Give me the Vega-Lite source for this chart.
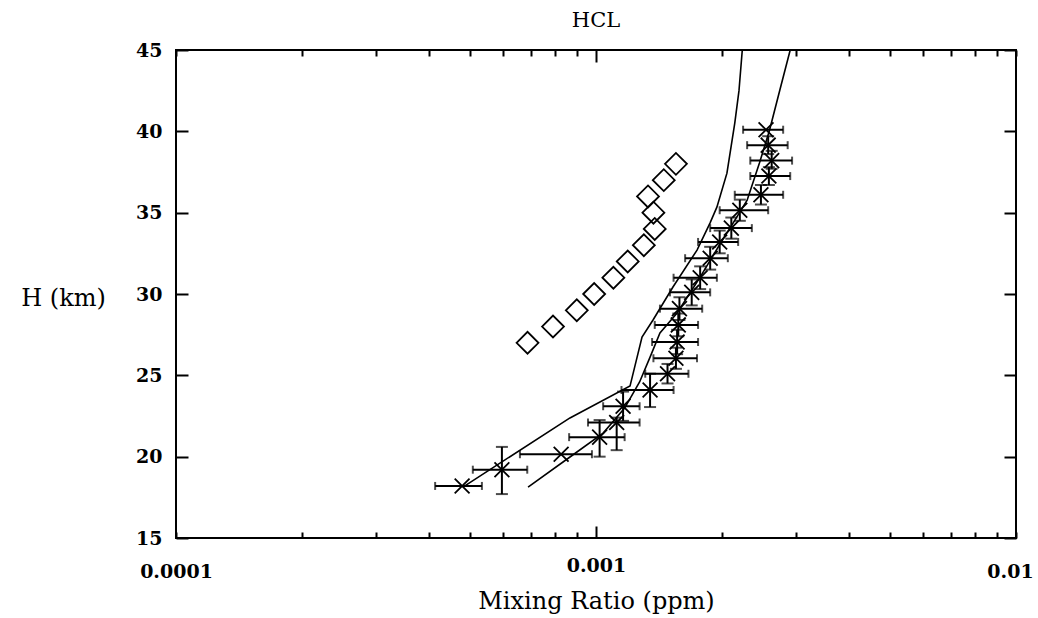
{
  "$schema": "https://vega.github.io/schema/vega-lite/v6.json",
  "width": 840,
  "height": 488,
  "autosize": {"type": "none"},
  "padding": {"left": 176, "top": 50, "right": 22, "bottom": 80},
  "background": "white",
  "title": {"text": "HCL", "font": "DejaVu Serif", "fontSize": 21, "fontWeight": "normal", "color": "black", "offset": 10},
  "config": {
    "view": {"stroke": "black", "strokeWidth": 2},
    "axis": {"grid": false, "domain": false, "tickColor": "black", "tickWidth": 2, "labelColor": "black", "titleColor": "black", "labelFont": "DejaVu Serif", "titleFont": "DejaVu Serif", "labelFontSize": 19, "titleFontSize": 24, "labelFontWeight": "bold", "titleFontWeight": "normal"}
  },
  "datasets": {
    "model": [
      {"s": "A", "x": 0.000482, "h": 18.13},
      {"s": "A", "x": 0.000867, "h": 22.38},
      {"s": "A", "x": 0.001205, "h": 24.34},
      {"s": "A", "x": 0.001287, "h": 27.35},
      {"s": "A", "x": 0.001367, "h": 28.4},
      {"s": "A", "x": 0.001525, "h": 30.43},
      {"s": "A", "x": 0.00174, "h": 32.7},
      {"s": "A", "x": 0.001868, "h": 34.36},
      {"s": "A", "x": 0.00194, "h": 35.34},
      {"s": "A", "x": 0.00205, "h": 37.43},
      {"s": "A", "x": 0.00214, "h": 40.5},
      {"s": "A", "x": 0.00219, "h": 42.5},
      {"s": "A", "x": 0.00223, "h": 45},
      {"s": "B", "x": 0.000689, "h": 18.13},
      {"s": "B", "x": 0.000867, "h": 19.98},
      {"s": "B", "x": 0.00104, "h": 21.45},
      {"s": "B", "x": 0.00117, "h": 22.99},
      {"s": "B", "x": 0.00127, "h": 24.59},
      {"s": "B", "x": 0.001345, "h": 26.12},
      {"s": "B", "x": 0.00142, "h": 27.6},
      {"s": "B", "x": 0.00156, "h": 28.83},
      {"s": "B", "x": 0.00177, "h": 31.04},
      {"s": "B", "x": 0.002, "h": 33.32},
      {"s": "B", "x": 0.00212, "h": 34.36},
      {"s": "B", "x": 0.00229, "h": 35.77},
      {"s": "B", "x": 0.00245, "h": 38.05},
      {"s": "B", "x": 0.00259, "h": 40.08},
      {"s": "B", "x": 0.00274, "h": 42.54},
      {"s": "B", "x": 0.0029, "h": 45}
    ],
    "meas": [
      {"x": 0.00048, "h": 18.2, "xmin": 0.000414, "xmax": 0.000535, "ymin": null, "ymax": null},
      {"x": 0.000597, "h": 19.2, "xmin": 0.000509, "xmax": 0.000686, "ymin": 17.7, "ymax": 20.6},
      {"x": 0.000826, "h": 20.15, "xmin": 0.000659, "xmax": 0.000978, "ymin": null, "ymax": null},
      {"x": 0.00102, "h": 21.2, "xmin": 0.000863, "xmax": 0.00117, "ymin": 20.0, "ymax": 22.25},
      {"x": 0.00112, "h": 22.1, "xmin": 0.000957, "xmax": 0.00127, "ymin": 20.4, "ymax": 22.4},
      {"x": 0.00116, "h": 23.1, "xmin": 0.00104, "xmax": 0.00127, "ymin": 22.2, "ymax": 24.0},
      {"x": 0.001345, "h": 24.1, "xmin": 0.00115, "xmax": 0.00153, "ymin": 23.05, "ymax": 25.1},
      {"x": 0.00148, "h": 25.1, "xmin": 0.00131, "xmax": 0.00166, "ymin": 24.5, "ymax": 25.7},
      {"x": 0.00155, "h": 26.05, "xmin": 0.00137, "xmax": 0.00174, "ymin": 25.4, "ymax": 26.7},
      {"x": 0.00156, "h": 27.05, "xmin": 0.00136, "xmax": 0.00175, "ymin": 26.3, "ymax": 27.8},
      {"x": 0.00157, "h": 28.1, "xmin": 0.00138, "xmax": 0.00175, "ymin": 27.4, "ymax": 28.8},
      {"x": 0.00158, "h": 29.1, "xmin": 0.00142, "xmax": 0.00179, "ymin": 28.4, "ymax": 29.8},
      {"x": 0.00169, "h": 30.1, "xmin": 0.0015, "xmax": 0.00187, "ymin": 29.3, "ymax": 30.9},
      {"x": 0.00177, "h": 31.0, "xmin": 0.00153, "xmax": 0.00194, "ymin": 30.3, "ymax": 31.7},
      {"x": 0.00187, "h": 32.2, "xmin": 0.00163, "xmax": 0.00206, "ymin": 31.5, "ymax": 32.9},
      {"x": 0.00197, "h": 33.2, "xmin": 0.00175, "xmax": 0.00218, "ymin": 32.5, "ymax": 33.9},
      {"x": 0.0021, "h": 34.05, "xmin": 0.00187, "xmax": 0.00235, "ymin": 33.4, "ymax": 34.7},
      {"x": 0.0022, "h": 35.15, "xmin": 0.00197, "xmax": 0.00257, "ymin": 34.5, "ymax": 35.8},
      {"x": 0.00247, "h": 36.1, "xmin": 0.00214, "xmax": 0.00279, "ymin": 35.5, "ymax": 36.7},
      {"x": 0.00258, "h": 37.25, "xmin": 0.00233, "xmax": 0.0029, "ymin": 36.7, "ymax": 37.8},
      {"x": 0.00262, "h": 38.2, "xmin": 0.00233, "xmax": 0.00293, "ymin": 37.7, "ymax": 38.8},
      {"x": 0.00257, "h": 39.15, "xmin": 0.00229, "xmax": 0.00286, "ymin": 38.6, "ymax": 39.7},
      {"x": 0.00254, "h": 40.1, "xmin": 0.00224, "xmax": 0.00279, "ymin": null, "ymax": null}
    ],
    "diam": [
      {"x": 0.000687, "h": 27},
      {"x": 0.00079, "h": 28},
      {"x": 0.0009, "h": 29},
      {"x": 0.00099, "h": 30},
      {"x": 0.0011, "h": 31},
      {"x": 0.00119, "h": 32},
      {"x": 0.0013, "h": 33},
      {"x": 0.00138, "h": 34},
      {"x": 0.00137, "h": 35},
      {"x": 0.00133, "h": 36},
      {"x": 0.00145, "h": 37},
      {"x": 0.00155, "h": 38}
    ]
  },
  "layer": [
    {
      "layer": [
        {
          "data": {"name": "model"},
          "mark": {"type": "line", "color": "black", "strokeWidth": 1.6, "clip": true},
          "encoding": {
            "x": {"field": "x", "type": "quantitative", "title": "Mixing Ratio (ppm)",
              "scale": {"type": "log", "domain": [0.0001, 0.01], "nice": false},
              "axis": {"orient": "bottom",
                "values": [0.0001, 0.0002, 0.0003, 0.0004, 0.0005, 0.0006, 0.0007, 0.0008, 0.0009, 0.001, 0.002, 0.003, 0.004, 0.005, 0.006, 0.007, 0.008, 0.009, 0.01],
                "labelExpr": "datum.value == 0.0001 ? '0.0001' : datum.value == 0.001 ? '0.001' : datum.value == 0.01 ? '0.01' : ''",
                "tickSize": {"condition": {"test": "datum.value == 0.001", "value": -12}, "value": -6},
                "labelOffset": {"condition": {"test": "datum.value == 0.01", "value": -6}, "value": 0},
                "labelPadding": 30, "labelFlush": false, "labelOverlap": false,
                "titleY": 63, "titleBaseline": "middle"}},
            "y": {"field": "h", "type": "quantitative", "title": "H (km)",
              "scale": {"domain": [15, 45], "nice": false, "zero": false},
              "axis": {"orient": "left", "values": [15, 20, 25, 30, 35, 40, 45], "tickSize": -12, "labelPadding": 26, "labelFlush": false,
                "titleAngle": 0, "titleX": -113, "titleY": 248, "titleAlign": "center", "titleBaseline": "middle"}},
            "detail": {"field": "s"},
            "order": {"field": "h", "type": "quantitative"}
          }
        },
        {
          "data": {"name": "meas"},
          "mark": {"type": "rule", "color": "black", "strokeWidth": 2},
          "encoding": {
            "x": {"field": "xmin", "type": "quantitative", "title": "Mixing Ratio (ppm)", "scale": {"type": "log", "domain": [0.0001, 0.01], "nice": false}},
            "x2": {"field": "xmax"},
            "y": {"field": "h", "type": "quantitative", "title": "H (km)", "scale": {"domain": [15, 45], "nice": false, "zero": false}}
          }
        },
        {
          "data": {"name": "meas"},
          "transform": [{"fold": ["xmin", "xmax"], "as": ["end", "xe"]}],
          "mark": {"type": "tick", "orient": "vertical", "color": "black", "size": 8, "thickness": 2},
          "encoding": {
            "x": {"field": "xe", "type": "quantitative", "title": "Mixing Ratio (ppm)", "scale": {"type": "log", "domain": [0.0001, 0.01], "nice": false}},
            "y": {"field": "h", "type": "quantitative", "title": "H (km)", "scale": {"domain": [15, 45], "nice": false, "zero": false}}
          }
        },
        {
          "data": {"name": "meas"},
          "transform": [{"filter": "datum.ymin != null"}],
          "mark": {"type": "rule", "color": "black", "strokeWidth": 2},
          "encoding": {
            "x": {"field": "x", "type": "quantitative", "title": "Mixing Ratio (ppm)", "scale": {"type": "log", "domain": [0.0001, 0.01], "nice": false}},
            "y": {"field": "ymin", "type": "quantitative", "title": "H (km)", "scale": {"domain": [15, 45], "nice": false, "zero": false}},
            "y2": {"field": "ymax"}
          }
        },
        {
          "data": {"name": "meas"},
          "transform": [{"filter": "datum.ymin != null"}, {"fold": ["ymin", "ymax"], "as": ["end", "ye"]}],
          "mark": {"type": "tick", "orient": "horizontal", "color": "black", "size": 12, "thickness": 2},
          "encoding": {
            "x": {"field": "x", "type": "quantitative", "title": "Mixing Ratio (ppm)", "scale": {"type": "log", "domain": [0.0001, 0.01], "nice": false}},
            "y": {"field": "ye", "type": "quantitative", "title": "H (km)", "scale": {"domain": [15, 45], "nice": false, "zero": false}}
          }
        },
        {
          "data": {"name": "meas"},
          "mark": {"type": "point", "shape": "M-1,-1L1,1M-1,1L1,-1", "filled": false, "color": "black", "strokeWidth": 1.8, "size": 220, "opacity": 1},
          "encoding": {
            "x": {"field": "x", "type": "quantitative", "title": "Mixing Ratio (ppm)", "scale": {"type": "log", "domain": [0.0001, 0.01], "nice": false}},
            "y": {"field": "h", "type": "quantitative", "title": "H (km)", "scale": {"domain": [15, 45], "nice": false, "zero": false}}
          }
        },
        {
          "data": {"name": "diam"},
          "mark": {"type": "point", "shape": "diamond", "filled": false, "color": "black", "strokeWidth": 1.8, "size": 480, "opacity": 1},
          "encoding": {
            "x": {"field": "x", "type": "quantitative", "title": "Mixing Ratio (ppm)", "scale": {"type": "log", "domain": [0.0001, 0.01], "nice": false}},
            "y": {"field": "h", "type": "quantitative", "title": "H (km)", "scale": {"domain": [15, 45], "nice": false, "zero": false}}
          }
        }
      ]
    },
    {
      "data": {"name": "diam"},
      "mark": {"type": "point", "opacity": 0},
      "encoding": {
        "x": {"field": "x", "type": "quantitative", "title": null,
          "scale": {"type": "log", "domain": [0.0001, 0.01], "nice": false},
          "axis": {"orient": "top", "labels": false, "title": null,
            "values": [0.0001, 0.0002, 0.0003, 0.0004, 0.0005, 0.0006, 0.0007, 0.0008, 0.0009, 0.001, 0.002, 0.003, 0.004, 0.005, 0.006, 0.007, 0.008, 0.009, 0.01],
            "tickSize": {"condition": {"test": "datum.value == 0.001", "value": -12}, "value": -6}}},
        "y": {"field": "h", "type": "quantitative", "title": null,
          "scale": {"domain": [15, 45], "nice": false, "zero": false},
          "axis": {"orient": "right", "labels": false, "title": null, "values": [15, 20, 25, 30, 35, 40, 45], "tickSize": -12}}
      }
    }
  ],
  "resolve": {"axis": {"x": "independent", "y": "independent"}}
}
